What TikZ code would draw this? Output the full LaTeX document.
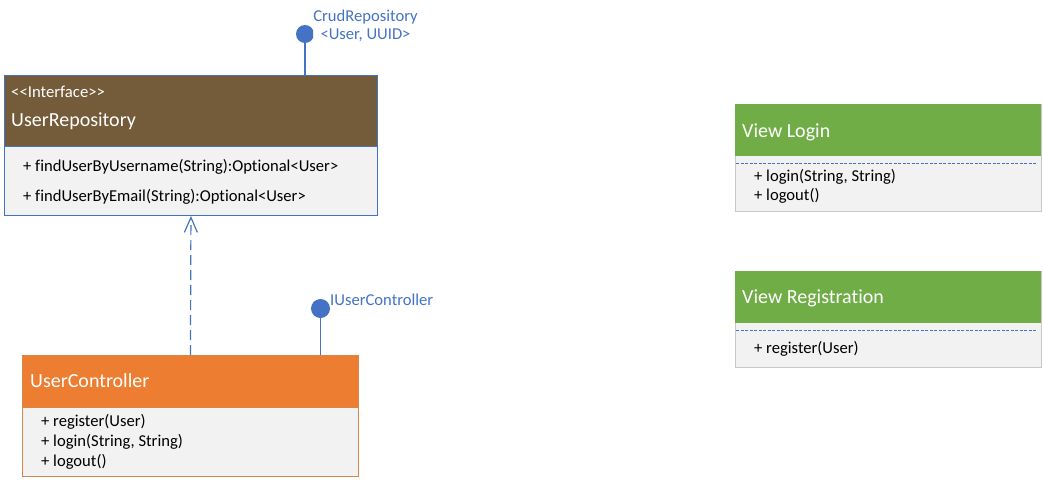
\documentclass[tikz,border=0pt]{standalone}
\usepackage{fontspec}
\setmainfont{Carlito}[Ligatures=NoCommon]
\usetikzlibrary{arrows.meta}
\definecolor{ublue}{HTML}{4472C4}
\definecolor{ubrown}{HTML}{745B3A}
\definecolor{uorange}{HTML}{ED7D31}
\definecolor{uorangeline}{HTML}{D9864A}
\definecolor{ugreen}{HTML}{70AD47}
\definecolor{ubody}{HTML}{F2F2F2}
\definecolor{ugrayline}{HTML}{C8C8C8}
\newcommand{\lt}{{<}}
\newcommand{\gt}{{>}}
\tikzset{
  box/.style={draw, fill=ubody, anchor=north west, inner sep=0pt, line width=0.9pt},
  hdr/.style={anchor=north west, inner sep=0pt, draw=none},
  ttl/.style={anchor=base west, inner sep=0pt, text=white, font=\fontsize{20}{24}\selectfont},
  meth/.style={anchor=base west, inner sep=0pt, font=\fontsize{16.6}{20}\selectfont},
  lbl/.style={inner sep=0pt, text=ublue, font=\fontsize{16.6}{20}\selectfont},
  lolli/.style={circle, fill=ublue, inner sep=0pt, minimum size=18pt},
  conn/.style={draw=ublue, line width=1.2pt},
}
\begin{document}
\begin{tikzpicture}[x=1pt,y=-1pt]
\useasboundingbox (0,0) rectangle (1043,480);
% UserRepository
\node[box, draw=ublue, minimum width=373pt, minimum height=140pt] (ur) at (4,75) {};
\node[hdr, fill=ubrown, minimum width=372pt, minimum height=70.5pt] (urh) at (4.5,75.5) {};
\draw[ublue, line width=0.9pt] (4,146) -- (377,146);
\node[anchor=base west, inner sep=0pt, text=white, font=\fontsize{16.7}{20}\selectfont] (urst) at (11,97) {\lt\lt Interface\gt\gt};
\node[ttl] (urt) at (11,126) {UserRepository};
\node[meth] (urm1) at (23,171) {+ findUserByUsername(String):Optional\lt User\gt};
\node[meth] (urm2) at (23,201) {+ findUserByEmail(String):Optional\lt User\gt};
% CrudRepository lollipop
\begin{scope}
\clip (0,0) rectangle (313,480);
\node[lolli] (crud) at (305,34) {};
\end{scope}
\draw[conn] (crud.south) -- (crud |- ur.north);
\node[lbl, anchor=base] (crudl1) at (365.5,21) {CrudRepository};
\node[lbl, anchor=base] (crudl2) at (365.5,39) {\lt User, UUID\gt};
% UserController
\node[box, draw=uorangeline, minimum width=336pt, minimum height=121pt] (uc) at (22,355) {};
\node[hdr, fill=uorange, minimum width=335pt, minimum height=51.5pt] (uch) at (22.5,355.5) {};
\draw[uorangeline, line width=0.9pt] (22,407) -- (358,407);
\node[ttl] (uct) at (30,387) {UserController};
\node[meth] (ucm1) at (41,426) {+ register(User)};
\node[meth] (ucm2) at (41,446) {+ login(String, String)};
\node[meth] (ucm3) at (41,466) {+ logout()};
% IUserController lollipop
\begin{scope}
\clip (0,0) rectangle (330,480);
\node[lolli, minimum size=19pt] (iuc) at (320.5,308.5) {};
\end{scope}
\draw[conn] (iuc.south) -- (iuc |- uc.north);
\node[lbl, anchor=base west] (iucl) at (330,305) {IUserController};
% dependency
\draw[conn, dash pattern=on 10pt off 5pt, -{Straight Barb[length=15pt,width=13pt,line width=1.2pt]}] (uc.north) -- (ur.south);
% View Login
\node[box, draw=ugrayline, minimum width=306pt, minimum height=107pt] (vl) at (735,104) {};
\node[hdr, fill=ugreen, minimum width=306pt, minimum height=52pt] (vlh) at (735,104) {};
\draw[ublue, dash pattern=on 3pt off 1.5pt, line width=0.9pt] (736,163) -- (1037,163);
\node[ttl] (vlt) at (742,137) {View Login};
\node[meth] (vlm1) at (754,181) {+ login(String, String)};
\node[meth] (vlm2) at (754,200) {+ logout()};
% View Registration
\node[box, draw=ugrayline, minimum width=306pt, minimum height=96pt] (vr) at (735,271) {};
\node[hdr, fill=ugreen, minimum width=306pt, minimum height=52pt] (vrh) at (735,271) {};
\draw[ublue, dash pattern=on 3pt off 1.5pt, line width=0.9pt] (736,330) -- (1037,330);
\node[ttl] (vrt) at (742,303) {View Registration};
\node[meth] (vrm1) at (754,353) {+ register(User)};
\end{tikzpicture}
\end{document}
